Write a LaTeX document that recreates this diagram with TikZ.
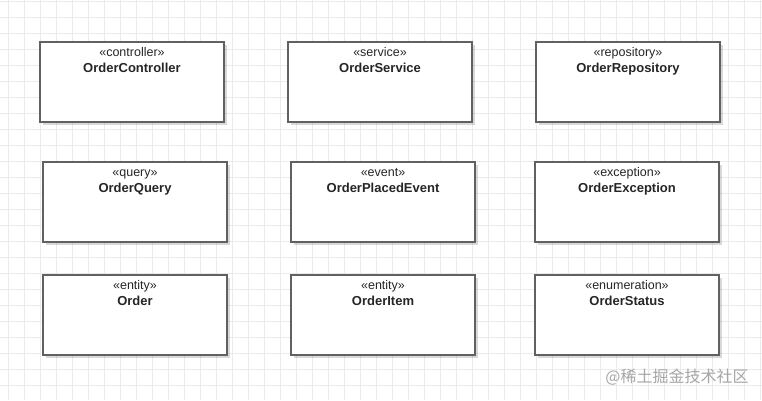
\documentclass[tikz,border=0pt]{standalone}
\usepackage{fontspec}
\setmainfont{Liberation Sans}
\newfontfamily\cjkfont{Noto Sans CJK SC}
\usetikzlibrary{positioning, shadows}

\begin{document}
\begin{tikzpicture}[
  x=1pt, y=-1pt,
  gridline/.style={draw=black!8, line width=0.8pt},
  umlbox/.style={draw=black!62, line width=1.4pt, fill=white, rectangle,
    minimum width=184pt, minimum height=80pt, inner sep=0pt,
    drop shadow={shadow xshift=3pt, shadow yshift=-3pt, opacity=0.15, fill=black}},
  stereo/.style={anchor=base, inner sep=0pt, font=\fontsize{12.5}{14}\selectfont, text=black!85},
  cname/.style={anchor=base, inner sep=0pt, font=\fontsize{13}{15}\selectfont\bfseries, text=black!85},
  wmark/.style={anchor=center, inner sep=0pt, font=\cjkfont\fontsize{16}{18}\selectfont, text=black!35}
]
  \useasboundingbox (0,0) rectangle (762,400);
  \fill[white] (0,0) rectangle (762,400);

  %% background grid
  \foreach \gx in {0,...,47}
    \draw[gridline] (8.5+16*\gx,0) -- (8.5+16*\gx,400);
  \foreach \gy in {0,...,24}
    \draw[gridline] (0,1+16*\gy) -- (762,1+16*\gy);

  %% Row 1
  \node[umlbox] (ctrl) at (132,82) {};
  \node[stereo] (ctrlS) at ([yshift=-15.5pt]ctrl.north) {«controller»};
  \node[cname] (ctrlN) at ([yshift=-31pt]ctrl.north) {OrderController};

  \node[umlbox] (svc) at (380,82) {};
  \node[stereo] (svcS) at ([yshift=-15.5pt]svc.north) {«service»};
  \node[cname] (svcN) at ([yshift=-31pt]svc.north) {OrderService};

  \node[umlbox] (repo) at (628,82) {};
  \node[stereo] (repoS) at ([yshift=-15.5pt]repo.north) {«repository»};
  \node[cname] (repoN) at ([yshift=-31pt]repo.north) {OrderRepository};

  %% Row 2
  \node[umlbox] (qry) at (135,202) {};
  \node[stereo] (qryS) at ([yshift=-15.5pt]qry.north) {«query»};
  \node[cname] (qryN) at ([yshift=-31pt]qry.north) {OrderQuery};

  \node[umlbox] (evt) at (383,202) {};
  \node[stereo] (evtS) at ([yshift=-15.5pt]evt.north) {«event»};
  \node[cname] (evtN) at ([yshift=-31pt]evt.north) {OrderPlacedEvent};

  \node[umlbox] (exc) at (627,202) {};
  \node[stereo] (excS) at ([yshift=-15.5pt]exc.north) {«exception»};
  \node[cname] (excN) at ([yshift=-31pt]exc.north) {OrderException};

  %% Row 3
  \node[umlbox] (ord) at (135,315) {};
  \node[stereo] (ordS) at ([yshift=-15.5pt]ord.north) {«entity»};
  \node[cname] (ordN) at ([yshift=-31pt]ord.north) {Order};

  \node[umlbox] (item) at (383,315) {};
  \node[stereo] (itemS) at ([yshift=-15.5pt]item.north) {«entity»};
  \node[cname] (itemN) at ([yshift=-31pt]item.north) {OrderItem};

  \node[umlbox] (stat) at (627,315) {};
  \node[stereo] (statS) at ([yshift=-15.5pt]stat.north) {«enumeration»};
  \node[cname] (statN) at ([yshift=-31pt]stat.north) {OrderStatus};

  %% watermark
  \node[wmark] (wm) at (677,377) {@稀土掘金技术社区};

\end{tikzpicture}
\end{document}
